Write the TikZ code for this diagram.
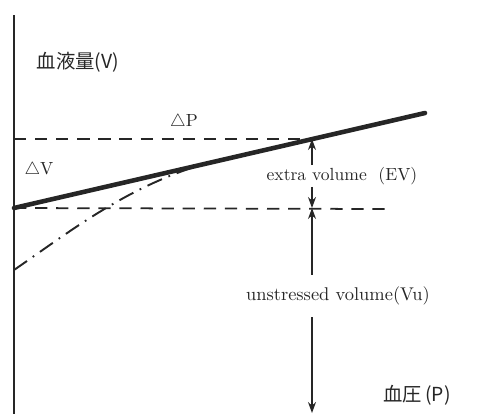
\documentclass[tikz,border=0pt]{standalone}
\usepackage{fontspec}
\usepackage{xcolor}
\usepackage{tikz}
\usetikzlibrary{arrows.meta,positioning,calc}
\newfontfamily\jpfont{Noto Sans CJK JP}
\definecolor{inkdark}{HTML}{262626}
\tikzset{
  axisline/.style={draw=inkdark,line width=0.7pt},
  curveline/.style={draw=inkdark,line width=2.6pt,line cap=round},
  levelline/.style={draw=inkdark,line width=1pt,dash pattern=on 7pt off 5pt},
  fillcurve/.style={draw=inkdark,line width=1.1pt,dash pattern=on 9pt off 4pt on 1pt off 4pt},
  lbl/.style={inner sep=1pt,text=inkdark,font=\normalsize},
  jlbl/.style={lbl,font=\jpfont\fontsize{11pt}{13pt}\selectfont},
  ar/.style={-{Stealth[length=2.2mm,width=1.6mm]},draw=inkdark,line width=0.6pt},
}

\begin{document}
\begin{tikzpicture}[x=0.02cm,y=-0.02cm]
  \useasboundingbox (0,0) rectangle (501,414);
  % axis and curves
  \coordinate (axtop) at (14,15);
  \coordinate (axbot) at (14,414);
  \draw[axisline] (axtop) -- (axbot);
  \coordinate (v0) at (14,208);
  \coordinate (vend) at (425,113);
  \coordinate (vu0) at (14,270);
  \coordinate (join) at (232,157);
  \coordinate (hiend) at (312,139);
  \coordinate (loend) at (387,209);
  \draw[levelline] (14,139) -- (hiend);
  \draw[levelline] (v0) -- (loend);
  \draw[fillcurve] (vu0) .. controls (75,228) and (140,176) .. (join);
  \draw[curveline] (v0) -- (vend);
  % labels
  \node[jlbl] (vlab) at (78,62) {血液量(V)};
  \node[jlbl] (plab) at (417,395) {血圧\,(P)};
  \node[lbl] (dp) at (184,122) {$\triangle$P};
  \node[lbl] (dv) at (39,170) {$\triangle$V};
  \node[lbl] (ev) at (342,176) {extra volume\ \ (EV)};
  \node[lbl,font=\fontsize{10.5pt}{12pt}\selectfont] (vu) at (338,296) {unstressed volume(Vu)};
  % volume arrows
  \coordinate (evtop) at (312,139);
  \coordinate (evbot) at (312,208);
  \coordinate (vubot) at (312,413);
  \draw[ar] (ev.north -| evtop) -- (evtop);
  \draw[ar] (ev.south -| evbot) -- (evbot);
  \draw[ar] ($(vu.north -| evbot)+(0,-10)$) -- (evbot);
  \draw[ar] ($(vu.south -| vubot)+(0,10)$) -- (vubot);
\end{tikzpicture}
\end{document}
